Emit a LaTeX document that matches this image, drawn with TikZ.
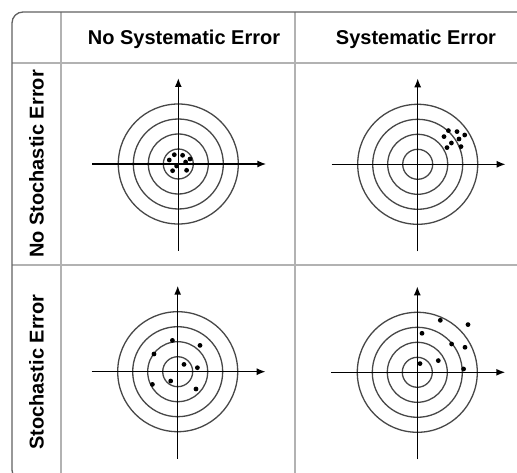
\documentclass[tikz,border=0pt]{standalone}
\usepackage{fontspec}
\setmainfont{Liberation Sans}
\usetikzlibrary{arrows.meta}
\tikzset{
  hdr/.style={font=\bfseries\fontsize{20}{24}\selectfont, inner sep=0pt, anchor=base},
  ring/.style={draw=black!72, line width=1.3pt},
  axisline/.style={draw=black, line width=1.5pt, -{Latex[length=9pt,width=7pt]}},
  gridline/.style={draw=black!30, line width=1.2pt},
  border/.style={draw=black!62, line width=1.3pt},
  dot/.style={fill=black},
  target/.pic={
    \foreach \r in {15,30,45,60} \draw[ring] (0,0) circle[radius=\r];
    \coordinate (-l) at (-86,0);
    \coordinate (-r) at (88,0);
    \coordinate (-b) at (0,87);
    \coordinate (-t) at (0,-86);
    \draw[axisline] (-l) -- (-r);
    \draw[axisline] (-b) -- (-t);
  }
}
\begin{document}
\begin{tikzpicture}[x=1pt,y=-1pt]
\useasboundingbox (0,0) rectangle (517,473);
\fill[white] (0,0) rectangle (517,473);
\clip (0,0) rectangle (517,473);
% table grid
\draw[gridline] (61,12) -- (61,490);
\draw[gridline] (295,12) -- (295,490);
\draw[gridline] (12,63) -- (545,63);
\draw[gridline] (12,265) -- (545,265);
\draw[border, rounded corners=11pt] (12,12) rectangle (545,481);
% headers
\node[hdr] (h1) at (184,45) {No Systematic Error};
\node[hdr] (h2) at (416,45) {Systematic Error};
\node[hdr, rotate=90] (r1) at (43.5,164) {No Stochastic Error};
\node[hdr, rotate=90] (r2) at (43.5,372) {Stochastic Error};
% targets
\pic (t1) at (178.3,164) {target};
\pic (t2) at (417.7,164.3) {target};
\pic (t3) at (177.7,371.7) {target};
\pic (t4) at (417.3,372.3) {target};
% dots
\begin{scope}[shift={(178.3,164)}]
\foreach \p in {(-9,-4),(-4,-9.3),(4.3,-8.7),(11.7,-5),(7.3,-2),(-1.7,2),(-5.7,6.7),(8.3,6.3)}
  \fill[dot] \p circle[radius=2.4];
\end{scope}
\begin{scope}[shift={(417.7,164.3)}]
\foreach \p in {(30.7,-33.7),(39.3,-32.7),(47,-29.3),(26.3,-27.7),(41.3,-25.3),(33.7,-21.3),(29.3,-16.7),(43.3,-17.7)}
  \fill[dot] \p circle[radius=2.4];
\end{scope}
\begin{scope}[shift={(177.7,371.7)}]
\foreach \p in {(-5.3,-31.3),(22.3,-26.3),(-23.7,-17.7),(6.3,-7.3),(19.7,-4),(-7,9.3),(-25.3,12.7),(18.3,17.3)}
  \fill[dot] \p circle[radius=2.4];
\end{scope}
\begin{scope}[shift={(417.3,372.3)}]
\foreach \p in {(23,-52),(50.7,-47.7),(4.7,-39),(34.3,-28.3),(47.7,-25),(21,-11.7),(2.7,-8.7),(46.3,-3.3)}
  \fill[dot] \p circle[radius=2.4];
\end{scope}
\end{tikzpicture}
\end{document}
